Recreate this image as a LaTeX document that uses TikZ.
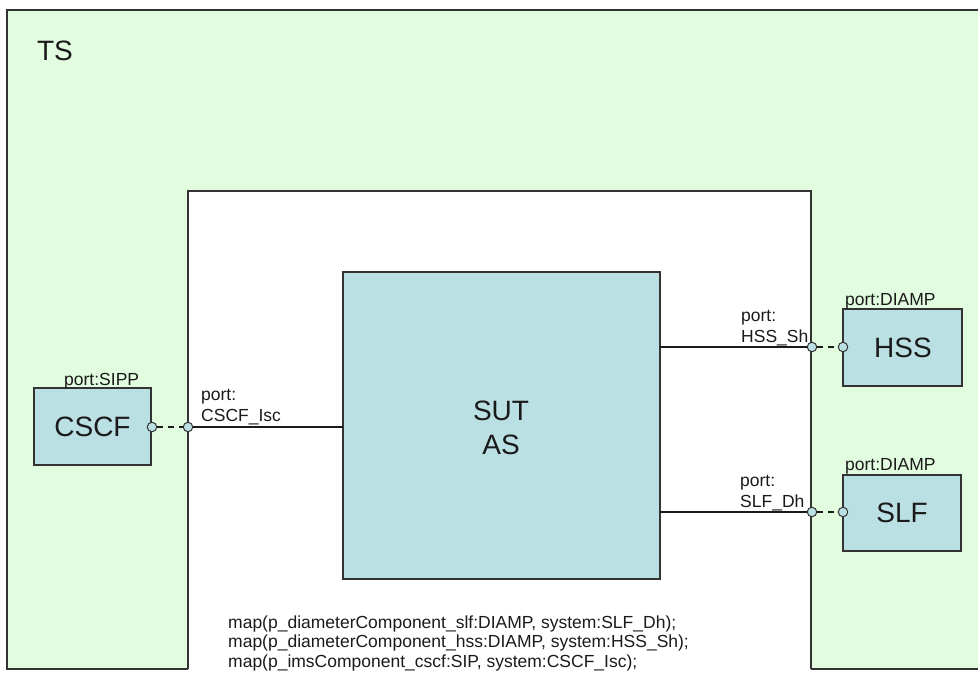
\documentclass[tikz,border=0pt]{standalone}
\usepackage{fontspec}
\setmainfont{Liberation Sans}
\definecolor{tsgreen}{HTML}{E2FCE0}
\definecolor{boxblue}{HTML}{BBE0E3}
\definecolor{edge}{HTML}{333333}
\definecolor{txt}{HTML}{1A1A1A}
\tikzset{
  x=1pt, y=-1pt,
  compbox/.style={draw=edge, line width=1.2pt, fill=boxblue, inner sep=0pt},
  bigtxt/.style={font=\fontsize{28}{33}\selectfont, text=txt, inner sep=0pt},
  smalltxt/.style={font=\fontsize{17.5}{20}\selectfont, text=txt, inner sep=0pt},
  portc/.style={circle, draw=edge, line width=1pt, fill=boxblue, minimum size=9.5pt, inner sep=0pt},
  link/.style={draw=txt, line width=1.1pt},
  dlink/.style={draw=txt, line width=1.1pt, dash pattern=on 6pt off 5pt},
}
\begin{document}
\begin{tikzpicture}
\useasboundingbox (0,0) rectangle (978,674);
\clip (0,0) rectangle (978,674);
% TS area with notch
\fill[tsgreen] (7,10) -- (990,10) -- (990,669) -- (811,669) -- (811,191) -- (188,191) -- (188,669) -- (7,669) -- cycle;
\draw[edge, line width=1.5pt] (811,669) -- (990,669);
\draw[edge, line width=1.5pt] (188,669) -- (7,669) -- (7,10) -- (990,10);
\draw[edge, line width=1.5pt] (188,669) -- (188,191) -- (811,191) -- (811,669);
\node[bigtxt] (ts) at (55,51) {TS};
% SUT
\path[compbox] (343,272) rectangle (660,579);
\node[bigtxt, align=center, font=\fontsize{28}{34}\selectfont] (sut) at (501,428) {SUT\\AS};
\coordinate (sutL) at (343,427);
\coordinate (sutR1) at (660,347);
\coordinate (sutR2) at (660,512);
% CSCF
\node[compbox, minimum width=117pt, minimum height=77pt] (cscf) at (92.5,426.5) {};
\node[bigtxt] (cscft) at (92.5,427) {CSCF};
\node[smalltxt, anchor=base west] (sipp) at (64,385) {port:SIPP};
% HSS
\node[compbox, minimum width=119pt, minimum height=77pt] (hss) at (902.5,347.5) {};
\node[bigtxt] (hsst) at (903,348) {HSS};
\node[smalltxt, anchor=base west] (hdiamp) at (845,305) {port:DIAMP};
% SLF
\node[compbox, minimum width=118pt, minimum height=76pt] (slf) at (902,513) {};
\node[bigtxt] (slft) at (902,513) {SLF};
\node[smalltxt, anchor=base west] (sdiamp) at (845,470) {port:DIAMP};
% ports
\node[portc] (pc1) at (152,427) {};
\node[portc] (pc2) at (188,427) {};
\node[portc] (ph1) at (812,347) {};
\node[portc] (ph2) at (843,347) {};
\node[portc] (ps1) at (812,512) {};
\node[portc] (ps2) at (843,512) {};
% links
\draw[dlink] (pc1) -- (pc2);
\draw[link] (pc2) -- (sutL);
\draw[link] (sutR1) -- (ph1);
\draw[dlink] (ph1) -- (ph2);
\draw[link] (sutR2) -- (ps1);
\draw[dlink] (ps1) -- (ps2);
% port labels
\node[smalltxt, anchor=base west] (lc1) at (201,400) {port:};
\node[smalltxt, anchor=base west] (lc2) at (201,421) {CSCF\_Isc};
\node[smalltxt, anchor=base west] (lh1) at (741,321) {port:};
\node[smalltxt, anchor=base west] (lh2) at (741,342) {HSS\_Sh};
\node[smalltxt, anchor=base west] (ls1) at (740,486) {port:};
\node[smalltxt, anchor=base west] (ls2) at (740,507) {SLF\_Dh};
% map text
\node[smalltxt, anchor=base west] (m1) at (228,628) {map(p\_diameterComponent\_slf:DIAMP, system:SLF\_Dh);};
\node[smalltxt, anchor=base west] (m2) at (228,647.5) {map(p\_diameterComponent\_hss:DIAMP, system:HSS\_Sh);};
\node[smalltxt, anchor=base west] (m3) at (228,667) {map(p\_imsComponent\_cscf:SIP, system:CSCF\_Isc);};
\end{tikzpicture}
\end{document}
